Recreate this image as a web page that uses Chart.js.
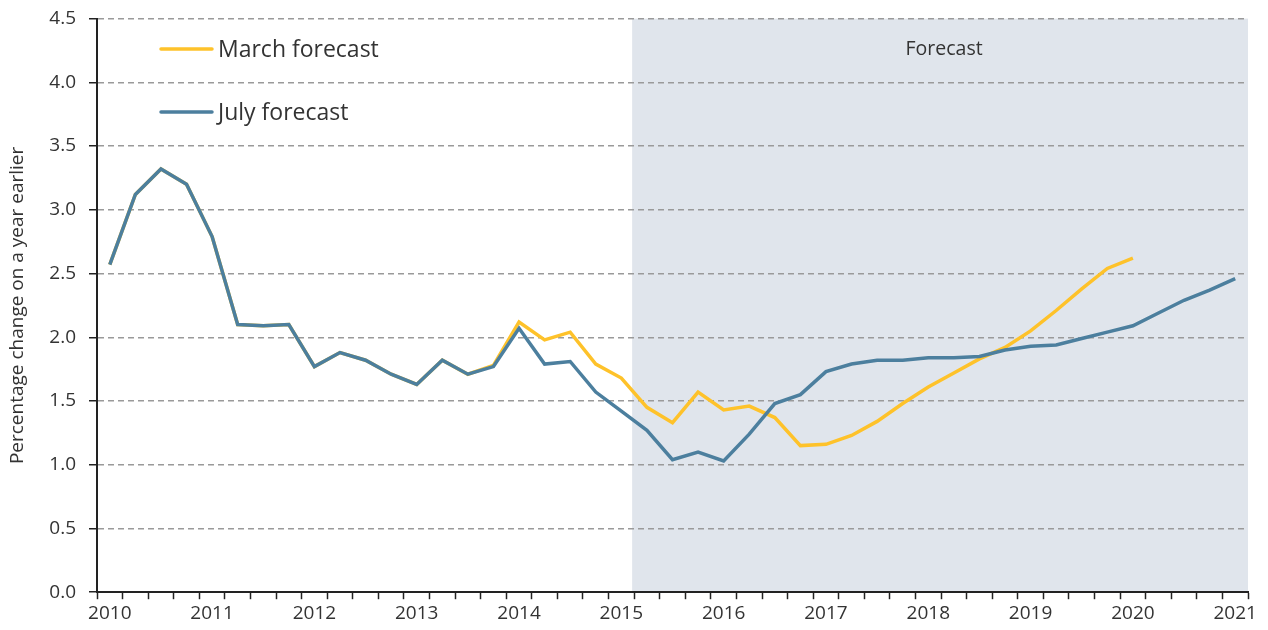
<!DOCTYPE html>
<html>
<head>
<meta charset="utf-8">
<script src="https://cdn.jsdelivr.net/npm/chart.js@4/dist/chart.umd.min.js"></script>
<style>
  html, body { margin: 0; padding: 0; background: #ffffff; }
  #wrap { width: 1268px; height: 630px; position: relative; }
</style>
</head>
<body>
<div id="wrap"><canvas id="c" width="1268" height="630"></canvas></div>
<script>
// ---- Data (quarterly, 2010 Q1 to 2021 Q1) ----
const firstYear = 2010;
const lastYear = 2021;
const quarters = [];
for (let y = firstYear; y <= lastYear; y++) {
  for (let q = 1; q <= 4; q++) {
    if (y === lastYear && q > 1) break;
    quarters.push(y + ' Q' + q);
  }
}
const yTicks = [0.0, 0.5, 1.0, 1.5, 2.0, 2.5, 3.0, 3.5, 4.0, 4.5];

const julyForecast = [2.57, 3.12, 3.32, 3.20, 2.79, 2.10, 2.09, 2.10, 1.77, 1.88,
  1.82, 1.71, 1.63, 1.82, 1.71, 1.77, 2.07, 1.79, 1.81, 1.57,
  1.42, 1.27, 1.04, 1.10, 1.03, 1.24, 1.48, 1.55, 1.73, 1.79,
  1.82, 1.82, 1.84, 1.84, 1.85, 1.90, 1.93, 1.94, 1.99, 2.04,
  2.09, 2.19, 2.29, 2.37, 2.46];

const marchForecast = [2.57, 3.12, 3.32, 3.20, 2.79, 2.10, 2.09, 2.10, 1.77, 1.88,
  1.82, 1.71, 1.63, 1.82, 1.71, 1.78, 2.12, 1.98, 2.04, 1.79,
  1.68, 1.45, 1.33, 1.57, 1.43, 1.46, 1.37, 1.15, 1.16, 1.23,
  1.34, 1.48, 1.61, 1.72, 1.83, 1.92, 2.05, 2.21, 2.38, 2.54,
  2.62, null, null, null, null];

const forecastStart = '2015 Q2';
const seriesNames = ['March forecast', 'July forecast'];
const seriesColors = ['#FEC22A', '#4C7F9E'];

const FONT = '"Open Sans", "Liberation Sans", sans-serif';
const TEXT = '#333333';

// Shading + annotations plugin
const decor = {
  id: 'decor',
  beforeDraw(chart) {
    const { ctx, chartArea, scales } = chart;
    const x = scales.x;
    const idx = quarters.indexOf(forecastStart);
    const x0 = x.getPixelForValue(idx - 0.5) - 2;
    ctx.save();
    ctx.fillStyle = '#E0E5EC';
    ctx.fillRect(x0, chartArea.top, chartArea.right - x0, chartArea.bottom - chartArea.top);
    ctx.restore();
  },
  afterDatasetsDraw(chart) {
    const { ctx, chartArea, scales } = chart;
    const x = scales.x;
    const idx = quarters.indexOf(forecastStart);
    const x0 = x.getPixelForValue(idx - 0.5) - 2;
    ctx.save();
    ctx.fillStyle = TEXT;
    ctx.font = '19.5px ' + FONT;
    ctx.textAlign = 'center';
    ctx.textBaseline = 'middle';
    ctx.fillText('Forecast', (x0 + chartArea.right) / 2 + 4, 49);
    // Legend
    const rows = [49, 112];
    ctx.font = '23px ' + FONT;
    ctx.textAlign = 'left';
    seriesNames.forEach((name, i) => {
      ctx.strokeStyle = seriesColors[i];
      ctx.lineWidth = 3.5;
      ctx.lineCap = 'round';
      ctx.beginPath();
      ctx.moveTo(161, rows[i]);
      ctx.lineTo(212, rows[i]);
      ctx.stroke();
      ctx.fillStyle = TEXT;
      ctx.fillText(name, 218, rows[i] + 1);
    });
    ctx.restore();
  }
};

new Chart(document.getElementById('c'), {
  type: 'line',
  data: {
    labels: quarters,
    datasets: [
      {
        label: seriesNames[1],
        data: julyForecast,
        borderColor: seriesColors[1],
        borderWidth: 3.5,
        pointRadius: 0,
        tension: 0,
        fill: false,
        order: 0
      },
      {
        label: seriesNames[0],
        data: marchForecast,
        borderColor: seriesColors[0],
        borderWidth: 3.5,
        pointRadius: 0,
        tension: 0,
        fill: false,
        spanGaps: false,
        order: 1
      }
    ]
  },
  options: {
    responsive: false,
    animation: false,
    devicePixelRatio: 1,
    layout: { padding: { left: 0, right: 20, top: 18.6, bottom: 2 } },
    plugins: {
      legend: { display: false },
      tooltip: { enabled: false }
    },
    scales: {
      x: {
        type: 'category',
        offset: true,
        grid: {
          display: true,
          offset: true,
          drawOnChartArea: false,
          drawTicks: true,
          tickLength: 7,
          tickColor: '#222222',
          tickWidth: 1.5
        },
        border: { display: true, color: '#222222', width: 2 },
        ticks: {
          autoSkip: false,
          maxRotation: 0,
          minRotation: 0,
          padding: 3,
          color: TEXT,
          font: { family: FONT, size: 19 },
          callback: function(v, i) {
            const lab = quarters[i];
            return lab.endsWith('Q1') ? lab.slice(0, 4) : '';
          }
        }
      },
      y: {
        min: 0,
        max: 4.5,
        afterBuildTicks(scale) {
          scale.ticks = yTicks.map(v => ({ value: v }));
        },
        afterFit(scale) {
          scale.width = 97;
          scale.paddingTop = 0;
          scale.paddingBottom = 0;
        },
        grid: {
          color: '#9A9A9A',
          lineWidth: 1.5,
          tickLength: 8,
          tickColor: '#222222',
          tickWidth: 1.5,
          tickBorderDash: [],
          drawTicks: true
        },
        border: { display: true, color: '#222222', width: 2, dash: [6, 4] },
        ticks: {
          padding: 13,
          color: TEXT,
          font: { family: FONT, size: 19 },
          callback: v => Number(v).toFixed(1)
        },
        title: {
          display: true,
          text: 'Percentage change on a year earlier',
          color: TEXT,
          font: { family: FONT, size: 19 },
          padding: { top: 6, bottom: 0 }
        }
      }
    }
  },
  plugins: [decor]
});
</script>
</body>
</html>
